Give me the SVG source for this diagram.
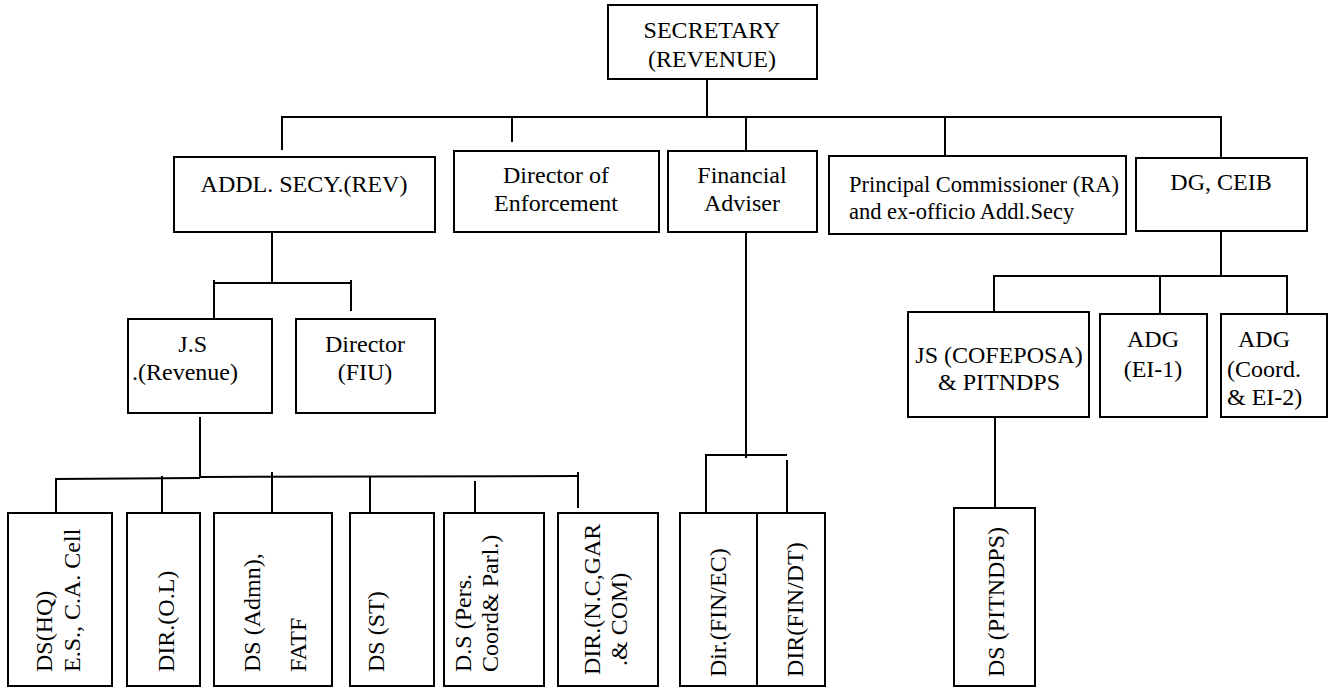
<svg xmlns="http://www.w3.org/2000/svg" width="1334" height="689" viewBox="0 0 1334 689">
<style>
rect{fill:#fff;stroke:#000;stroke-width:2}
line{stroke:#000;stroke-width:2;fill:none}
text{font-size:24px;fill:#000}
.c{text-anchor:middle}
.e{text-anchor:end}
.s{font-size:22.5px}
</style>
<rect x="0" y="0" width="1334" height="689" style="stroke:none"/>
<g id="connectors">
<line x1="707" y1="79" x2="707" y2="117"/>
<line x1="281" y1="117" x2="1222" y2="117"/>
<line x1="282" y1="117" x2="282" y2="150"/>
<line x1="512" y1="117" x2="512" y2="142"/>
<line x1="746" y1="117" x2="746" y2="151"/>
<line x1="945" y1="117" x2="945" y2="156"/>
<line x1="1221" y1="117" x2="1221" y2="158"/>
<line x1="272" y1="232" x2="272" y2="283"/>
<line x1="214" y1="283" x2="351" y2="283"/>
<line x1="214" y1="280" x2="214" y2="319"/>
<line x1="351" y1="280" x2="351" y2="311"/>
<line x1="200" y1="417" x2="200" y2="477"/>
<line x1="55" y1="479" x2="200" y2="478"/>
<line x1="200" y1="477" x2="579" y2="476"/>
<line x1="56" y1="478" x2="56" y2="513"/>
<line x1="162" y1="476" x2="162" y2="513"/>
<line x1="272" y1="472" x2="272" y2="513"/>
<line x1="370" y1="476" x2="370" y2="513"/>
<line x1="475" y1="481" x2="475" y2="513"/>
<line x1="578" y1="472" x2="578" y2="508"/>
<line x1="746" y1="232" x2="746" y2="458"/>
<line x1="705" y1="455" x2="787" y2="455"/>
<line x1="706" y1="455" x2="706" y2="513"/>
<line x1="787" y1="460" x2="787" y2="513"/>
<line x1="1221" y1="231" x2="1221" y2="276"/>
<line x1="993" y1="276" x2="1288" y2="276"/>
<line x1="994" y1="276" x2="994" y2="312"/>
<line x1="1160" y1="276" x2="1160" y2="314"/>
<line x1="1287" y1="276" x2="1287" y2="314"/>
<line x1="995" y1="417" x2="995" y2="508"/>
</g>
<g font-family="Liberation Serif, Times New Roman, DejaVu Serif, serif">
<g id="secretary"><rect x="608" y="5" width="209" height="74"/><text class="c" x="712" y="38">SECRETARY</text><text class="c" x="712" y="67">(REVENUE)</text></g>
<g id="addl-secy"><rect x="174" y="157" width="261" height="75"/><text class="c" x="304" y="192">ADDL. SECY.(REV)</text></g>
<g id="dir-enforcement"><rect x="454" y="151" width="205" height="81"/><text class="c" x="556" y="183">Director of</text><text class="c" x="556" y="211">Enforcement</text></g>
<g id="fin-adviser"><rect x="668" y="151" width="149" height="81"/><text class="c" x="742" y="183">Financial</text><text class="c" x="742" y="211">Adviser</text></g>
<g id="princ-comm"><rect x="829" y="156" width="297" height="78"/><text class="s" x="849" y="192">Principal Commissioner (RA)</text><text class="s" x="849" y="219">and ex-officio Addl.Secy</text></g>
<g id="dg-ceib"><rect x="1136" y="158" width="171" height="73"/><text class="c" x="1221" y="190">DG, CEIB</text></g>
<g id="js-revenue"><rect x="128" y="319" width="144" height="94"/><text class="e" x="207" y="352">J.S</text><text class="e" x="238" y="380">.(Revenue)</text></g>
<g id="dir-fiu"><rect x="296" y="319" width="139" height="94"/><text class="c" x="365" y="352">Director</text><text class="c" x="365" y="380">(FIU)</text></g>
<g id="js-cofeposa"><rect x="908" y="312" width="181" height="105"/><text class="c" x="999" y="363">JS (COFEPOSA)</text><text class="c" x="999" y="390">&amp; PITNDPS</text></g>
<g id="adg-ei1"><rect x="1100" y="314" width="107" height="103"/><text class="c" x="1153" y="347">ADG</text><text class="c" x="1153" y="377">(EI-1)</text></g>
<g id="adg-ei2"><rect x="1221" y="314" width="106" height="103"/><text x="1238" y="347">ADG</text><text x="1227" y="377">(Coord.</text><text x="1227" y="405">&amp; EI-2)</text></g>
<g id="ds-hq"><rect x="8" y="513" width="104" height="173"/><text transform="translate(52,672) rotate(-90)">DS(HQ)</text><text transform="translate(80,672) rotate(-90)">E.S., C.A. Cell</text></g>
<g id="dir-ol"><rect x="127" y="513" width="73" height="173"/><text transform="translate(174,672) rotate(-90)">DIR.(O.L)</text></g>
<g id="ds-admn"><rect x="214" y="513" width="118" height="173"/><text transform="translate(260,672) rotate(-90)">DS (Admn),</text><text transform="translate(306,672) rotate(-90)">FATF</text></g>
<g id="ds-st"><rect x="350" y="513" width="84" height="173"/><text transform="translate(384,672) rotate(-90)">DS (ST)</text></g>
<g id="ds-pers"><rect x="444" y="513" width="100" height="173"/><text transform="translate(471,672) rotate(-90)">D.S (Pers.</text><text transform="translate(498,672) rotate(-90)">Coord&amp; Parl.)</text></g>
<g id="dir-nc"><rect x="558" y="513" width="100" height="173"/><text transform="translate(600,675) rotate(-90)">DIR.(N.C,GAR</text><text transform="translate(627,666) rotate(-90)">.&amp; COM)</text></g>
<g id="dir-fin-ec"><rect x="680" y="513" width="77" height="173"/><text transform="translate(726,677) rotate(-90)">Dir.(FIN/EC)</text></g>
<g id="dir-fin-dt"><rect x="757" y="513" width="68" height="173"/><text transform="translate(803,677) rotate(-90)">DIR(FIN/DT)</text></g>
<g id="ds-pitndps"><rect x="954" y="508" width="81" height="178"/><text transform="translate(1004,677) rotate(-90)">DS (PITNDPS)</text></g>
</g>
</svg>
